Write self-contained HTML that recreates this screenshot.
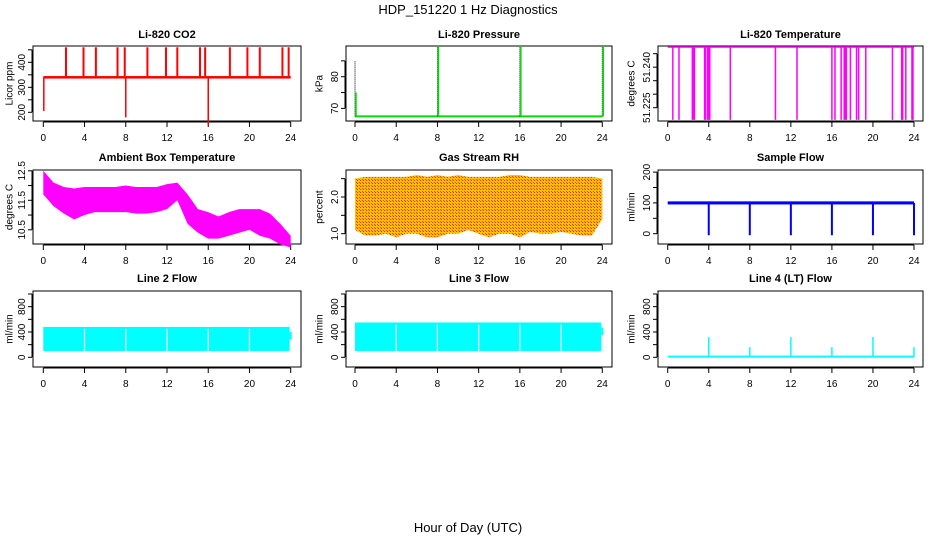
<!DOCTYPE html>
<html><head><meta charset="utf-8"><style>
body{margin:0;background:#fff}
svg{display:block;font-family:"Liberation Sans",Arial,sans-serif}
</style></head><body>
<svg id="c" width="936" height="540" viewBox="0 0 936 540" xmlns="http://www.w3.org/2000/svg">
<defs>
<pattern id="rhpat" width="3" height="3" patternUnits="userSpaceOnUse"><rect width="3" height="3" fill="#ffc000"/><rect width="1" height="1" fill="#ff2000"/><rect x="2" y="2" width="1" height="1" fill="#ff4000"/></pattern>
</defs>
<text x="468" y="14" font-size="13" text-anchor="middle">HDP_151220  1 Hz Diagnostics</text>
<text x="468" y="532" font-size="13" text-anchor="middle">Hour of Day (UTC)</text>
</svg>
<script>
// ---- data ----
const xTicks=[0,4,8,12,16,20,24];
const co2Base=[340,340];
const co2SpikeHours=[2.2,3.9,5.1,7.2,7.9,10.1,11.9,13.0,15.2,15.7,18.1,19.8,21.0,23.2,23.8];
const co2SpikeVals=[460,460,460,460,460,460,460,460,460,460,460,460,460,460,460];
const co2DipHours=[0.05,8,16];
const co2DipVals=[205,180,150];
const presBase=67.5;
const presSpikeHours=[0,8,16,24];
const presSpikeVals=[85,89.7,89.7,89.7];
const tempTop=51.2475;
const tempDropHours=[0.5,1.1,2.4,2.5,2.6,3.6,3.7,3.9,4.0,4.1,6.1,10.5,12.6,16.0,16.3,16.9,17.2,17.3,17.4,17.8,18.4,18.6,19.3,21.9,22.8,22.9,23.2,23.8,23.9];
const tempLow=51.2205;
const ambHours=[0,1,2,3,4,5,6,7,8,9,10,11,12,13,14,15,16,17,18,19,20,21,22,23,24];
const ambUpper=[12.5,12.1,11.95,11.9,11.95,11.95,11.95,11.95,12.0,11.95,11.95,11.95,12.05,12.1,11.7,11.2,11.1,10.95,11.1,11.2,11.2,11.2,11.05,10.7,10.3];
const ambLower=[11.7,11.3,11.05,10.85,11.0,11.1,11.1,11.1,11.1,11.05,11.05,11.1,11.2,11.5,10.7,10.4,10.2,10.2,10.3,10.4,10.5,10.3,10.2,10.0,9.9];
const rhUpper=[2.5,2.55,2.55,2.55,2.55,2.55,2.6,2.55,2.6,2.55,2.6,2.55,2.55,2.55,2.55,2.6,2.6,2.55,2.55,2.55,2.55,2.55,2.55,2.55,2.5];
const rhLower=[1.1,0.95,0.95,1.0,0.9,1.0,1.0,0.9,0.9,1.0,1.0,1.1,1.0,0.9,1.0,1.0,0.9,1.05,1.0,1.0,1.05,1.0,0.95,0.95,1.4];
const sampleBase=100;
const sampleDipHours=[4,8,12,16,20,24];
const sampleDipVals=[-5,-5,-5,-5,-5,-5];
const l2Upper=480, l2Lower=100;
const l3Upper=550, l3Lower=100;
const flowGapHours=[4,8,12,16,20];
const l4Base=10;
const l4SpikeHours=[4,8,12,16,20,24];
const l4SpikeVals=[320,160,320,160,320,160];

const svg=document.getElementById('c');
const NS='http://www.w3.org/2000/svg';
function el(tag,attrs,parent){const e=document.createElementNS(NS,tag);for(const k in attrs)e.setAttribute(k,attrs[k]);(parent||svg).appendChild(e);return e;}

const cols=[{l:33,r:301,x0:43.3,x24:290.7,ly:10},{l:346,r:612,x0:355,x24:602.3,ly:320},{l:658,r:923,x0:667.7,x24:914,ly:632}];
const rows=[{t:46,b:121,ty:38},{t:170,b:244,ty:161},{t:291,b:367,ty:282}];

function panel(ci,ri,title,ylab,yfun,yticks,ylabels,name){
  const c=cols[ci],r=rows[ri];
  const g=el('g',{});
  
  
  const xs=h=>c.x0+(c.x24-c.x0)*h/24;
  const t=el('text',{x:(c.l+c.r)/2,y:r.ty,'font-size':11,'font-weight':'bold','text-anchor':'middle'},g);
  t.textContent=title;
  
  
  const yl=el('text',{x:c.ly,y:(r.t+r.b)/2,'font-size':10,'text-anchor':'middle',transform:`rotate(-90 ${c.ly} ${(r.t+r.b)/2})`,'dominant-baseline':'middle'},g);
  yl.textContent=ylab;
  
  
  const ax=el('g',{stroke:'#000','stroke-width':1},g);
  
  
  el('line',{x1:xs(0),x2:xs(24),y1:r.b+1,y2:r.b+1},ax);
  xTicks.forEach(h=>{el('line',{x1:xs(h),x2:xs(h),y1:r.b+1,y2:r.b+6},ax);
    const tx=el('text',{x:xs(h),y:r.b+20,'font-size':10,'text-anchor':'middle',stroke:'none'},ax);tx.textContent=h;
  });
  const ay=el('g',{stroke:'#000'},g);
  
  
  const yt=yticks.map(yfun);
  el('line',{x1:c.l-1,x2:c.l-1,y1:Math.min(...yt),y2:Math.max(...yt)},ay);
  yticks.forEach((v,i)=>{const y=yfun(v);el('line',{x1:c.l-5,x2:c.l-1,y1:y,y2:y},ay);
    if(ylabels[i]){const tx=el('text',{x:c.l-8,y:y,'font-size':10,'text-anchor':'middle',stroke:'none',transform:`rotate(-90 ${c.l-8} ${y})`},ay);tx.textContent=ylabels[i];}
  });
  const box=el('rect',{x:c.l,y:r.t,width:c.r-c.l,height:r.b-r.t,fill:'none',stroke:'#000'},g);
  
  
  const data=el('g',{},g);
  
  
  return {xs,data};
}
function vline(p,x,y1,y2,col,w){const l=el('line',{x1:x,x2:x,y1:y1,y2:y2,stroke:col,'stroke-width':w||1.5},p);return l;}
function band(p,xs,ys,hs,up,lo,fill){let d='';hs.forEach((h,i)=>d+=(i?'L':'M')+xs(h)+','+ys(up[i]));for(let i=hs.length-1;i>=0;i--)d+='L'+xs(hs[i])+','+ys(lo[i]);const b=el('path',{d:d+'Z',fill:fill},p);return b;}

// CO2
{const ys=v=>87.3-(v-300)*0.25;
 const P=panel(0,0,'Li-820 CO2','Licor ppm',ys,[200,250,300,350,400,450],['200','','300','','400',''],'co2-panel');
 const b=el('rect',{x:P.xs(0),y:ys(co2Base[0]+5),width:P.xs(24)-P.xs(0),height:ys(co2Base[0]-5)-ys(co2Base[0]+5),fill:'#ff0000'},P.data);
 
 co2SpikeHours.forEach((h,i)=>vline(P.data,P.xs(h),ys(co2Base[0]),ys(co2SpikeVals[i]),'#ff0000',2));
 co2DipHours.forEach((h,i)=>vline(P.data,P.xs(h),ys(co2Base[0]),ys(co2DipVals[i]),'#ff0000',1.5));}
// Pressure
{const ys=v=>76.7-(v-80)*3.17;
 const P=panel(1,0,'Li-820 Pressure','kPa',ys,[70,75,80,85],['70','','80',''],'pressure-panel');
 const b=el('line',{x1:P.xs(0),x2:P.xs(24),y1:ys(presBase),y2:ys(presBase),stroke:'#00dd00','stroke-width':2},P.data);
 
 presSpikeHours.forEach((h,i)=>{vline(P.data,P.xs(h),ys(presBase),ys(presSpikeVals[i]),'#000',1).setAttribute('stroke-dasharray','1,1');vline(P.data,P.xs(h)+1,ys(presBase),ys(presSpikeVals[i]-(i==0?10:0)),'#00dd00',1.5);});}
// Li temp
{const ys=v=>107.7-(v-51.225)*2700;
 const P=panel(2,0,'Li-820 Temperature','degrees C',ys,[51.225,51.230,51.235,51.240,51.245],['51.225','','','51.240',''],'li-temp-panel');
 const b=el('line',{x1:P.xs(0),x2:P.xs(24),y1:ys(tempTop),y2:ys(tempTop),stroke:'#ff00ff','stroke-width':1.5},P.data);
 
 tempDropHours.forEach(h=>vline(P.data,P.xs(h),ys(tempTop),ys(tempLow),'#ff00ff',1.5));}
// Ambient
{const ys=v=>200.3-(v-11.5)*29.5;
 const P=panel(0,1,'Ambient Box Temperature','degrees C',ys,[10.5,11,11.5,12,12.5],['10.5','','11.5','','12.5'],'ambient-temp-panel');
 band(P.data,P.xs,ys,ambHours,ambUpper,ambLower,'#ff00ff');}
// RH
{const ys=v=>197-(v-2)*36.7;
 const P=panel(1,1,'Gas Stream RH','percent',ys,[1.0,1.5,2.0,2.5],['1.0','','2.0',''],'rh-panel');
 band(P.data,P.xs,ys,ambHours,rhUpper,rhLower,'url(#rhpat)');}
// Sample flow
{const ys=v=>233.7-v*0.308;
 const P=panel(2,1,'Sample Flow','ml/min',ys,[0,50,100,150,200],['0','','100','','200'],'sample-flow-panel');
 const b=el('rect',{x:P.xs(0),y:ys(sampleBase+5),width:P.xs(24)-P.xs(0),height:ys(sampleBase-5)-ys(sampleBase+5),fill:'#0000ff'},P.data);
 
 sampleDipHours.forEach((h,i)=>vline(P.data,P.xs(h),ys(sampleBase),ys(sampleDipVals[i]),'#0000ff',2));}
// Line flows
const fys=v=>357.3-v*0.0633;
function flowPanel(ci,title,up,lo,name){
 const P=panel(ci,2,title,'ml/min',fys,[0,200,400,600,800,1000],['0','','400','','800',''],name);
 const b=el('rect',{x:P.xs(0),y:fys(up),width:P.xs(23.9)-P.xs(0),height:fys(lo)-fys(up),fill:'#00ffff'},P.data);
 
 flowGapHours.forEach(h=>vline(P.data,P.xs(h),fys(up)+2,fys(lo),'#fff',1.2));
 vline(P.data,P.xs(24),fys(up-80),fys(up-200),'#00ffff',2);
 return P;}
flowPanel(0,'Line 2 Flow',l2Upper,l2Lower,'line2-flow-panel');
flowPanel(1,'Line 3 Flow',l3Upper,l3Lower,'line3-flow-panel');
{const P=panel(2,2,'Line 4 (LT) Flow','ml/min',fys,[0,200,400,600,800,1000],['0','','400','','800',''],'line4-flow-panel');
 const b=el('line',{x1:P.xs(0),x2:P.xs(24),y1:fys(l4Base),y2:fys(l4Base),stroke:'#00ffff','stroke-width':2},P.data);
 
 l4SpikeHours.forEach((h,i)=>vline(P.data,P.xs(h),fys(l4Base),fys(l4SpikeVals[i]),'#00ffff',1.5));}
</script>
</body></html>
